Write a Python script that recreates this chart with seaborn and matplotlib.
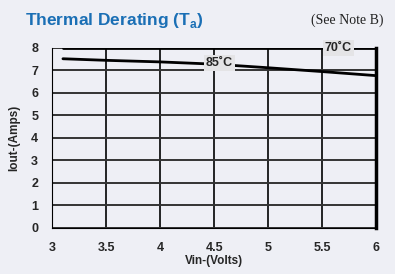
import matplotlib
matplotlib.use('Agg')
import matplotlib.pyplot as plt
import seaborn as sns
import pandas as pd

# curve data
vin_70 = [3.1, 6.0]
iout_70 = [8.0, 8.0]
vin_85 = [3.1, 3.5, 4.0, 4.5, 5.0, 5.5, 6.0]
iout_85 = [7.52, 7.45, 7.38, 7.28, 7.12, 6.95, 6.77]
x_ticks = [3, 3.5, 4, 4.5, 5, 5.5, 6]
x_labels = ['3', '3.5', '4', '4.5', '5', '5.5', '6']
y_ticks = [0, 1, 2, 3, 4, 5, 6, 7, 8]

df = pd.concat([
    pd.DataFrame({'Vin': vin_70, 'Iout': iout_70, 'Temp': '70°C'}),
    pd.DataFrame({'Vin': vin_85, 'Iout': iout_85, 'Temp': '85°C'}),
])

bg = '#eeeff5'
sns.set_style('white')
plt.rcParams['font.family'] = ['Liberation Sans', 'DejaVu Sans']

fig = plt.figure(figsize=(3.95, 2.74), dpi=100, facecolor=bg)
ax = fig.add_axes([0.132, 0.168, 0.820, 0.657])
ax.set_facecolor(bg)

sns.lineplot(data=df, x='Vin', y='Iout', hue='Temp', palette=['black', 'black'],
             linewidth=2, legend=False, ax=ax, zorder=3)

ax.set_xlim(3, 6)
ax.set_ylim(0, 8)
ax.set_xticks(x_ticks)
ax.set_xticklabels(x_labels)
ax.set_yticks(y_ticks)
ax.grid(True, axis='x', color='black', linewidth=1.2, zorder=1)
ax.grid(True, axis='y', color='#333333', linewidth=1.4, zorder=1)
ax.tick_params(axis='both', direction='out', length=4, width=1, color='black',
               labelsize=9, pad=6)
for lab in ax.get_xticklabels() + ax.get_yticklabels():
    lab.set_fontweight('bold')

ax.spines['top'].set_visible(False)
ax.spines['left'].set_color('black')
ax.spines['bottom'].set_color('black')
ax.spines['right'].set_linewidth(2.5)
ax.spines['right'].set_color('black')

ax.set_xlabel('Vin-(Volts)', fontsize=8.5, fontweight='bold', labelpad=1)
ax.set_ylabel('Iout-(Amps)', fontsize=8.5, fontweight='bold', labelpad=8)

box = dict(boxstyle='square,pad=0.15', facecolor='#e4e4e6', edgecolor='none')
ax.text(5.65, 8.0, '70˚C', fontsize=9, fontweight='bold', ha='center', va='center',
        bbox=box, zorder=5)
ax.text(4.55, 7.33, '85˚C', fontsize=9, fontweight='bold', ha='center', va='center',
        bbox=box, zorder=5)

fig.text(0.063, 0.925, 'Thermal Derating (T$_\\mathregular{a}$)', fontsize=12.5,
         fontweight='bold', color='#1a6fb5', ha='left', va='center')
fig.text(0.97, 0.925, '(See Note B)', fontsize=10, family=['Liberation Serif', 'DejaVu Serif'],
         color='#222222', ha='right', va='center')

fig.savefig('out.png', dpi=100, facecolor=bg)
